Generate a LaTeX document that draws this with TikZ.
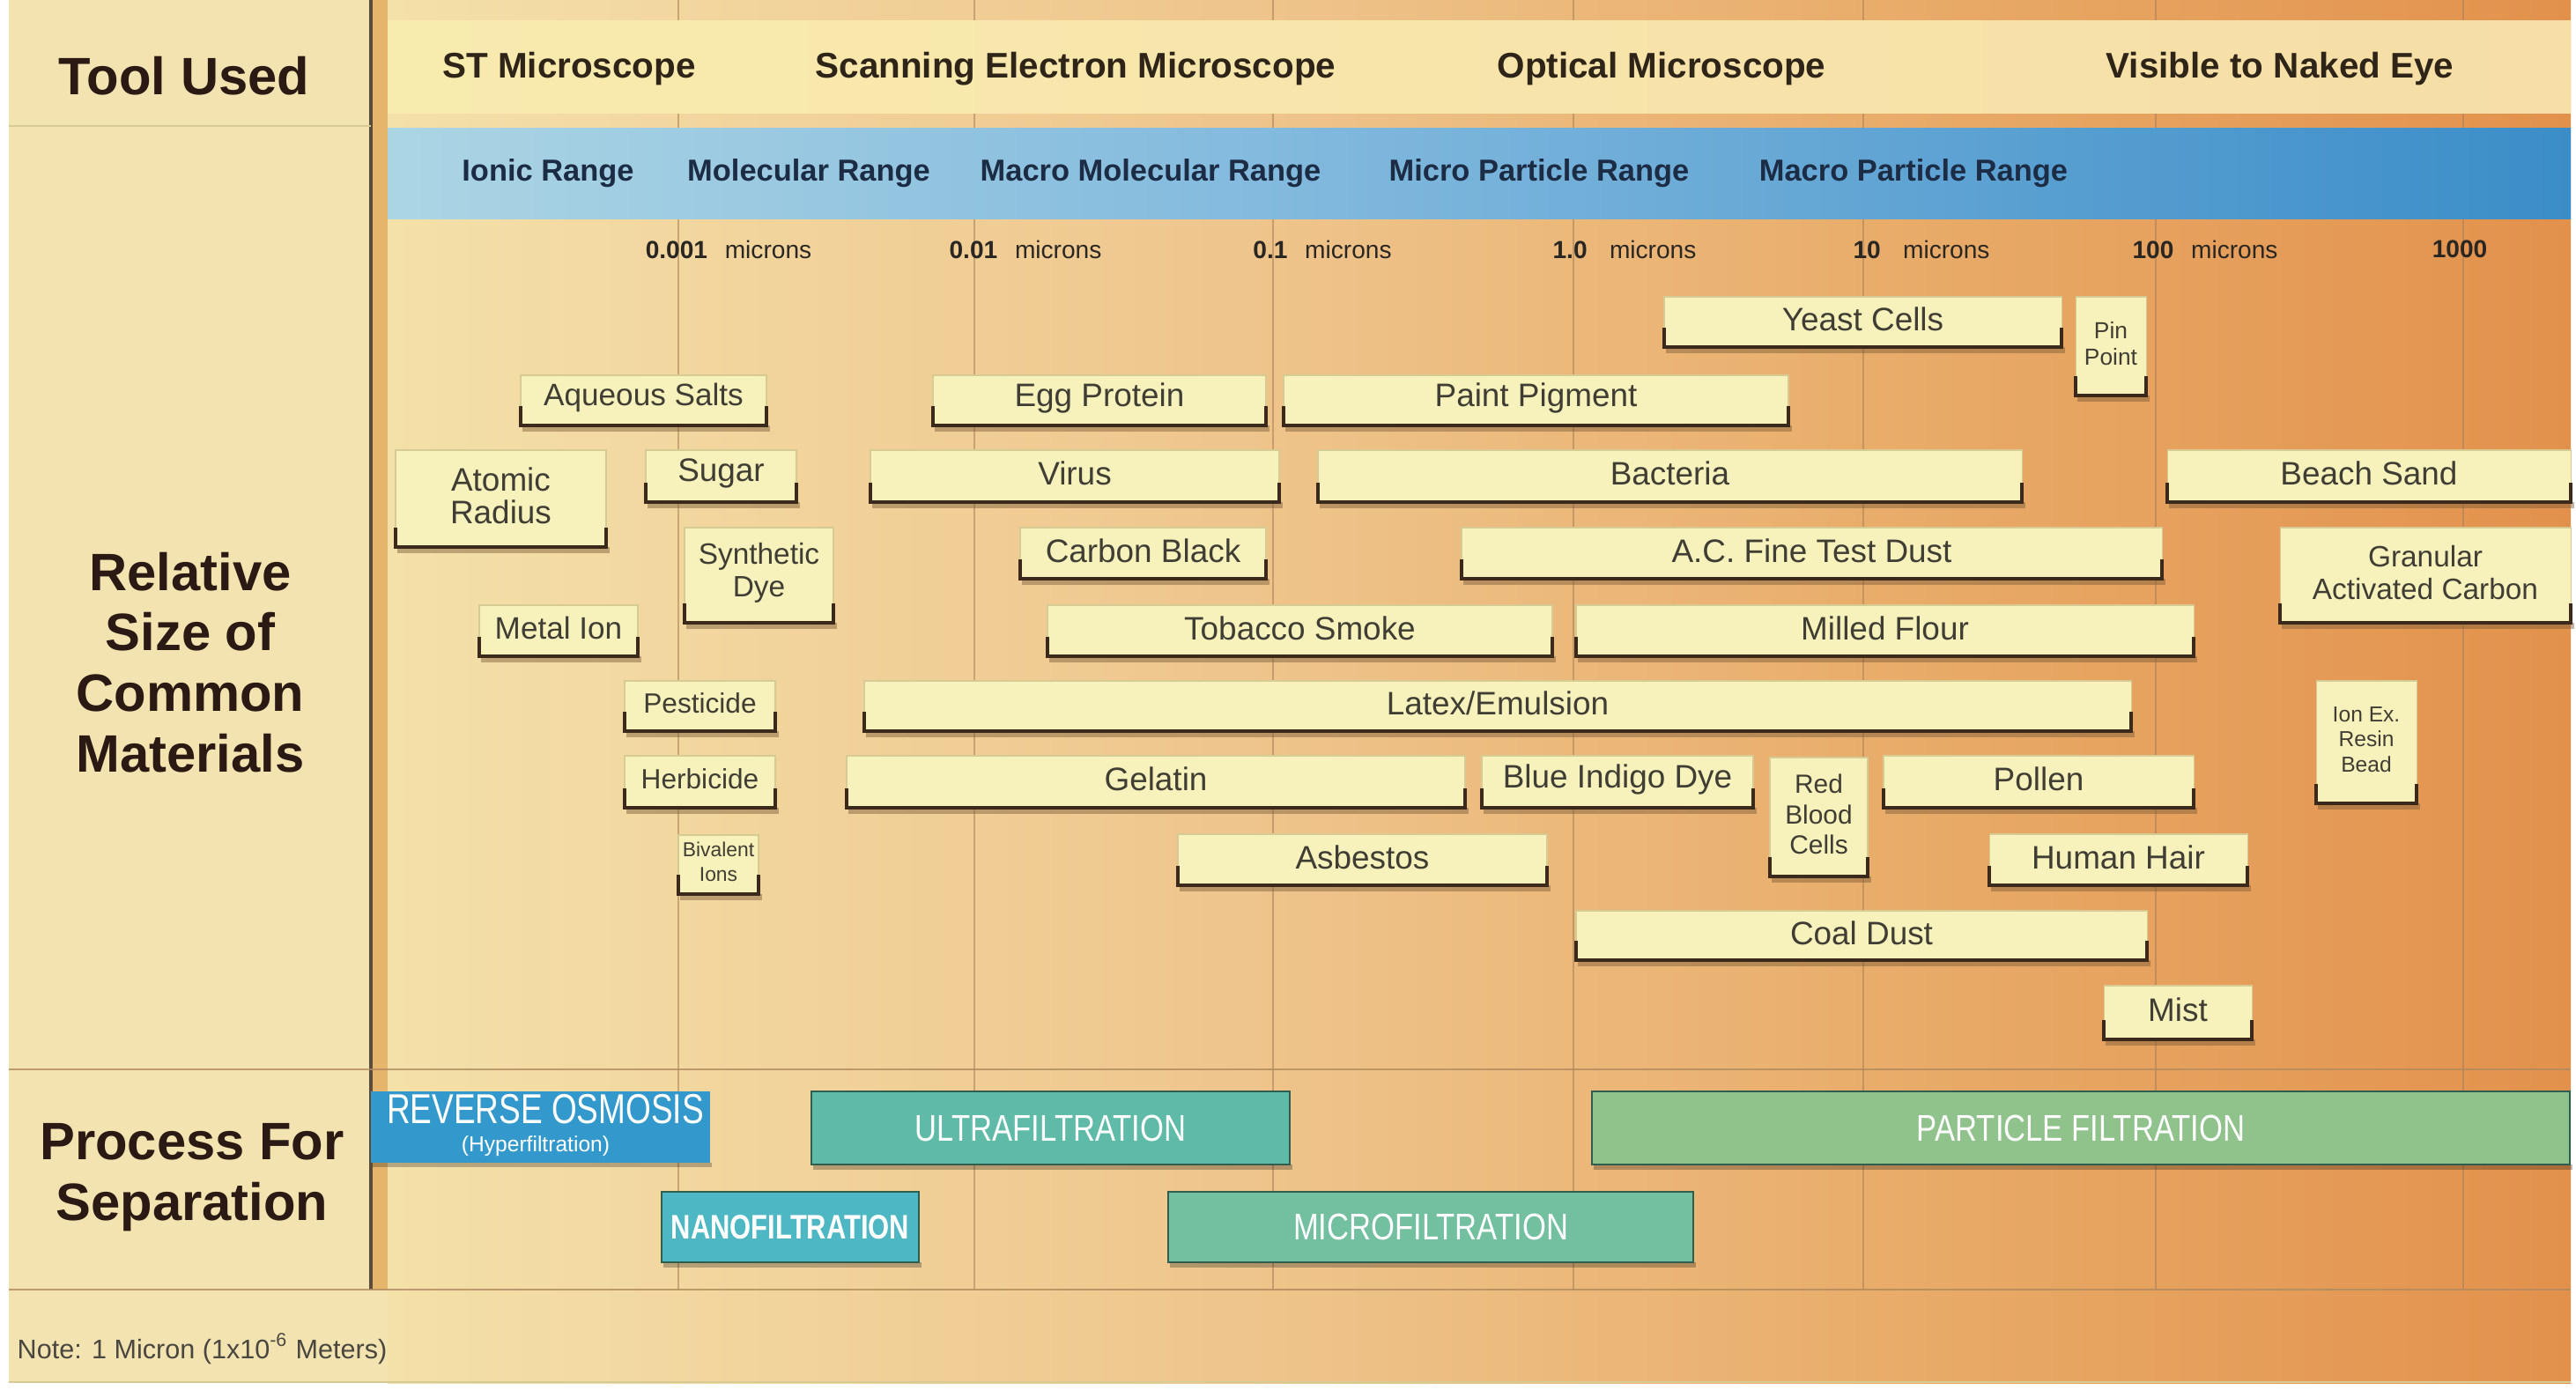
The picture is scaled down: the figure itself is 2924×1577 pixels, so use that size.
\documentclass[tikz,border=0pt]{standalone}
\usepackage{fontspec}
\setmainfont{Liberation Sans}
\usepackage{graphicx}
\definecolor{leftpanel}{HTML}{F3E3B0}
\definecolor{bgA}{HTML}{F4E0A9}
\definecolor{bgB}{HTML}{EEC48B}
\definecolor{bgC}{HTML}{E9AD6B}
\definecolor{bgD}{HTML}{E2914C}
\definecolor{toolA}{HTML}{F8EBAE}
\definecolor{toolB}{HTML}{F6DEA6}
\definecolor{blueA}{HTML}{ACD5E4}
\definecolor{blueB}{HTML}{80B8DD}
\definecolor{blueC}{HTML}{3B8DC8}
\definecolor{hdrcol}{HTML}{2B1A14}
\definecolor{toolcol}{HTML}{2E2418}
\definecolor{rngcol}{HTML}{1D2C45}
\definecolor{sclcol}{HTML}{2A2622}
\definecolor{gridcol}{HTML}{A87E56}
\definecolor{divdark}{HTML}{5B4B3B}
\definecolor{stripecol}{HTML}{E6B56C}
\definecolor{hlinecol}{HTML}{B08A5E}
\definecolor{boxfillcol}{HTML}{F7F1BB}
\definecolor{boxlinecol}{HTML}{D6CB92}
\definecolor{boxdark}{HTML}{3B2A1C}
\definecolor{boxshadowcol}{HTML}{7A5A36}
\definecolor{boxtxt}{HTML}{403E34}
\definecolor{rocol}{HTML}{3399CC}
\definecolor{ufcol}{HTML}{5FBBA8}
\definecolor{nfcol}{HTML}{4DB7C3}
\definecolor{mfcol}{HTML}{72C0A0}
\definecolor{pfcol}{HTML}{90C28C}
\definecolor{procedge}{HTML}{2F5E50}
\definecolor{notecol}{HTML}{4A4640}

\newcommand{\matbox}[8]{%
  \fill[boxshadow] (#2+2,#5) rectangle (#4+4,#5+7);
  \fill[boxfill] (#2,#3) rectangle (#4,#5);
  \draw[boxbracket] (#2,#5-22) -- (#2,#5) -- (#4,#5) -- (#4,#5-22);
  \node[boxtext, font=\fontsize{#6}{#7}\selectfont] (#1) at ({(#2+#4)/2},{(#3+#5)/2-3}) {#8};
}
\newcommand{\procbox}[7]{%
  \fill[procshadow] (#2+2,#5) rectangle (#4+3,#5+6);
  \fill[fill=#6, draw=procedge, line width=0.7pt] (#2,#3) rectangle (#4,#5);
  \node[proctext] (#1) at ({(#2+#4)/2},{(#3+#5)/2}) {#7};
}

\tikzset{
  hdr/.style={font=\fontsize{17}{19.6}\selectfont\bfseries, text=hdrcol, align=center, inner sep=0pt},
  tool/.style={font=\fontsize{11.5}{13}\selectfont\bfseries, text=toolcol, inner sep=0pt},
  rng/.style={font=\fontsize{9.8}{11}\selectfont\bfseries, text=rngcol, inner sep=0pt},
  scl/.style={font=\fontsize{8}{9}\selectfont, text=sclcol, inner sep=0pt},
  gridline/.style={draw=gridcol, line width=0.4pt, opacity=0.55},
  hline/.style={draw=hlinecol, line width=0.8pt, opacity=0.8},
  boxfill/.style={fill=boxfillcol, draw=boxlinecol, line width=0.3pt},
  boxbracket/.style={draw=boxdark, line width=0.9pt},
  boxshadow/.style={fill=boxshadowcol, opacity=0.45},
  boxtext/.style={text=boxtxt, align=center, inner sep=0pt},
  procshadow/.style={fill=black, opacity=0.25},
  proctext/.style={text=white, align=center, inner sep=0pt, font=\fontsize{12}{13}\selectfont}
}

\begin{document}
\begin{tikzpicture}[x=0.1mm, y=-0.1mm]
\useasboundingbox (0,0) rectangle (2924,1577);
\fill[white] (0,0) rectangle (2924,1577);
% background
\fill[leftpanel] (10,0) rectangle (2918,1570);
\shade[left color=bgA, right color=bgB] (440,0) rectangle (1447,1570);
\shade[left color=bgB, right color=bgC] (1445,0) rectangle (2117,1570);
\shade[left color=bgC, right color=bgD] (2115,0) rectangle (2918,1570);
% grid lines
\foreach \gx in {770,1106,1445,1786,2115,2447,2796}
  \draw[gridline] (\gx,0) -- (\gx,1464);
% bands
\shade[left color=toolA, right color=toolB] (440,23) rectangle (2918,128);
\shade[left color=blueA, right color=blueB] (440,145) rectangle (1502,248);
\shade[left color=blueB, right color=blueC] (1500,145) rectangle (2918,248);
% left panel separators
\fill[stripecol] (423,0) rectangle (440,1464);
\draw[draw=divdark, line width=1pt] (421,0) -- (421,1464);
\draw[draw=boxlinecol, line width=0.5pt] (10,143) -- (421,143);
\draw[hline] (10,1214) -- (2918,1214);
\draw[hline] (10,1464) -- (2918,1464);
\draw[draw=boxlinecol, line width=0.6pt] (10,1569) -- (2918,1569);

% headers
\node[hdr] (toolused) at (209,86) {Tool Used};
\node[hdr] (relsize) at (216,752) {Relative\\Size of\\Common\\Materials};
\node[hdr] (process) at (218,1337) {Process For\\Separation};

% tools
\node[tool] (stm) at (646,78) {ST Microscope};
\node[tool] (sem) at (1221,78) {Scanning Electron Microscope};
\node[tool] (optm) at (1886,78) {Optical Microscope};
\node[tool] (naked) at (2588,78) {Visible to Naked Eye};

% ranges
\node[rng] (ionic) at (622,197) {Ionic Range};
\node[rng] (molec) at (918,197) {Molecular Range};
\node[rng] (macmol) at (1306,197) {Macro Molecular Range};
\node[rng] (micpart) at (1747,197) {Micro Particle Range};
\node[rng] (macpart) at (2172,197) {Macro Particle Range};

% scale
\node[scl] (s1) at (827,283) {\textbf{0.001}\hspace{0.7em}microns};
\node[scl] (s2) at (1164,283) {\textbf{0.01}\hspace{0.7em}microns};
\node[scl] (s3) at (1501,283) {\textbf{0.1}\hspace{0.7em}microns};
\node[scl] (s4) at (1844,283) {\textbf{1.0}\hspace{0.9em}microns};
\node[scl] (s5) at (2181,283) {\textbf{10}\hspace{0.9em}microns};
\node[scl] (s6) at (2503,283) {\textbf{100}\hspace{0.7em}microns};
\node[scl] (s7) at (2792,283) {\textbf{1000}};

% materials
\matbox{yeast}{1889}{337}{2340}{394}{10.5}{11}{Yeast Cells}
\matbox{pin}{2356}{337}{2436}{449}{7.5}{8.4}{Pin\\Point}
\matbox{aqueous}{591}{426}{870}{483}{10}{11}{Aqueous Salts}
\matbox{egg}{1059}{426}{1437}{483}{10.5}{11}{Egg Protein}
\matbox{paint}{1457}{426}{2030}{483}{10.5}{11}{Paint Pigment}
\matbox{atomic}{449}{511}{688}{621}{10.5}{10.6}{Atomic\\Radius}
\matbox{sugar}{733}{511}{904}{570}{10.5}{11}{Sugar}
\matbox{virus}{988}{511}{1452}{570}{10.5}{11}{Virus}
\matbox{bacteria}{1496}{511}{2295}{570}{10.5}{11}{Bacteria}
\matbox{sand}{2460}{511}{2918}{570}{10.5}{11}{Beach Sand}
\matbox{syndye}{777}{599}{946}{707}{9.5}{10.6}{Synthetic\\Dye}
\matbox{carbon}{1158}{599}{1437}{657}{10.5}{11}{Carbon Black}
\matbox{acdust}{1659}{599}{2454}{657}{10.5}{11}{A.C. Fine Test Dust}
\matbox{gac}{2588}{599}{2918}{707}{9.5}{10.6}{Granular\\Activated Carbon}
\matbox{metal}{544}{687}{724}{745}{10}{11}{Metal Ion}
\matbox{tobacco}{1189}{687}{1762}{745}{10.5}{11}{Tobacco Smoke}
\matbox{flour}{1789}{687}{2490}{745}{10.5}{11}{Milled Flour}
\matbox{pesticide}{709}{773}{880}{830}{9}{10}{Pesticide}
\matbox{latex}{981}{773}{2419}{830}{10.5}{11}{Latex/Emulsion}
\matbox{ionex}{2629}{773}{2743}{912}{7}{8.2}{Ion Ex.\\Resin\\Bead}
\matbox{herbicide}{709}{858}{880}{917}{9}{10}{Herbicide}
\matbox{gelatin}{961}{858}{1663}{917}{10.5}{11}{Gelatin}
\matbox{indigo}{1682}{858}{1990}{917}{10.5}{11}{Blue Indigo Dye}
\matbox{rbc}{2009}{860}{2120}{995}{8.5}{9.8}{Red\\Blood\\Cells}
\matbox{pollen}{2138}{858}{2490}{917}{10.5}{11}{Pollen}
\matbox{bivalent}{770}{948}{861}{1015}{6.5}{8}{Bivalent\\Ions}
\matbox{asbestos}{1337}{947}{1756}{1005}{10.5}{11}{Asbestos}
\matbox{hair}{2258}{947}{2551}{1005}{10.5}{11}{Human Hair}
\matbox{coal}{1789}{1034}{2437}{1090}{10.5}{11}{Coal Dust}
\matbox{mist}{2388}{1119}{2556}{1180}{10.5}{11}{Mist}

% processes
\fill[procshadow] (423,1320) rectangle (808,1325);
\fill[rocol] (421,1239) rectangle (806,1320);
\node[text=white, inner sep=0pt] (ro) at (619,1259)
  {\scalebox{0.78}[1]{\fontsize{13.5}{14}\selectfont REVERSE OSMOSIS}};
\node[text=white, inner sep=0pt, font=\fontsize{7}{7.5}\selectfont] (rosub) at (608,1301)
  {(Hyperfiltration)};
\procbox{uf}{921}{1239}{1464}{1322}{ufcol}{\scalebox{0.82}[1]{ULTRAFILTRATION}}
\procbox{nf}{751}{1353}{1043}{1433}{nfcol}{\scalebox{0.8}[1]{\fontsize{11}{12}\selectfont\bfseries NANOFILTRATION}}
\procbox{mf}{1326}{1353}{1922}{1433}{mfcol}{\scalebox{0.82}[1]{MICROFILTRATION}}
\procbox{pf}{1807}{1239}{2917}{1322}{pfcol}{\scalebox{0.82}[1]{PARTICLE FILTRATION}}

% note
\node[anchor=west, inner sep=0pt, text=notecol, font=\fontsize{8.7}{9.5}\selectfont] (note) at (19,1531)
  {Note: 1 Micron (1x10\textsuperscript{-6} Meters)};
\end{tikzpicture}
\end{document}
